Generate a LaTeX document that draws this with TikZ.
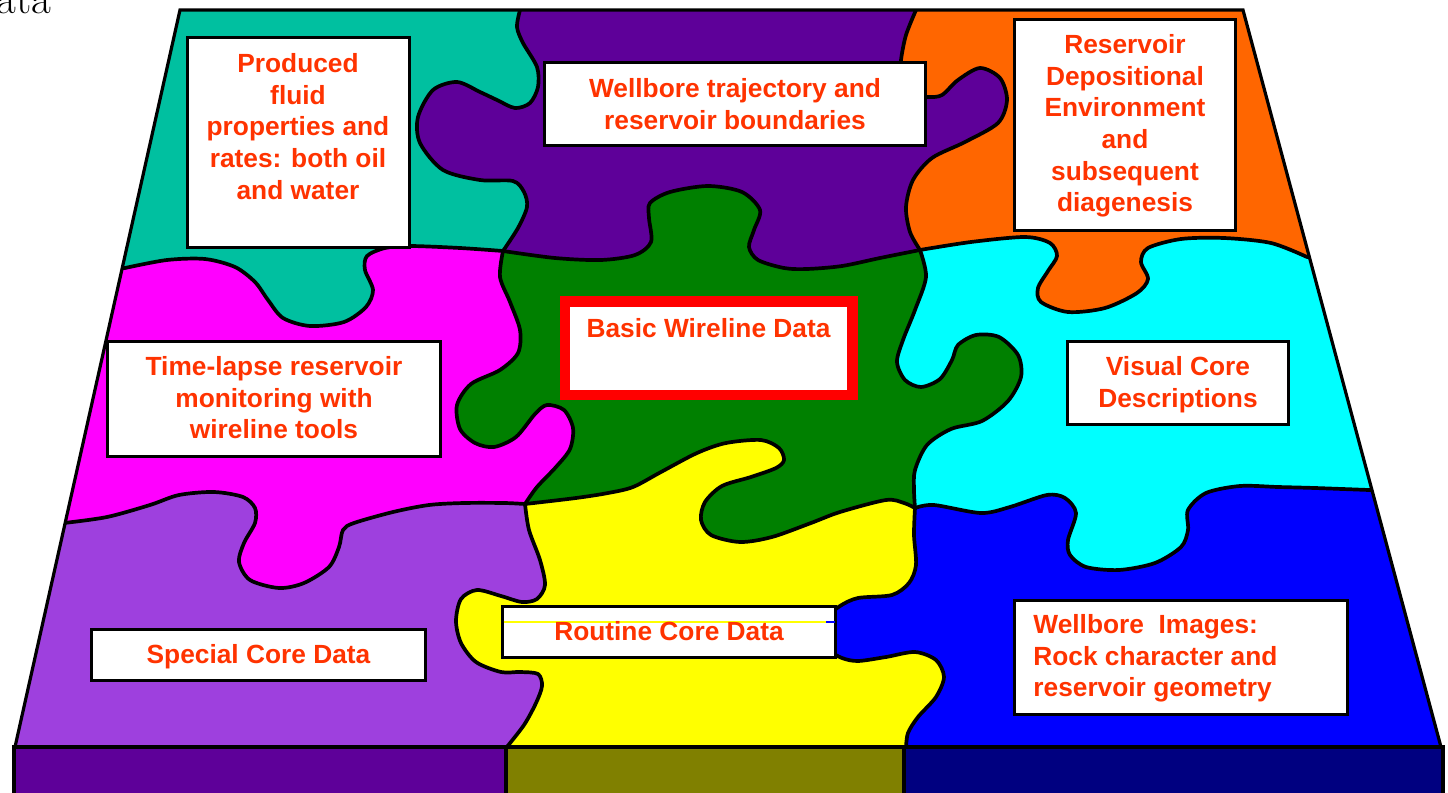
\documentclass[tikz,border=0pt]{standalone}
\usepackage{fontspec}
\newfontfamily\lsans{Liberation Sans}
\usetikzlibrary{fit}
\definecolor{tred}{HTML}{FF3300}
\definecolor{bred}{HTML}{FF0000}
\definecolor{cteal}{RGB}{0,192,160}
\definecolor{cdpurple}{RGB}{94,0,153}
\definecolor{corange}{HTML}{FF6600}
\definecolor{cmagenta}{HTML}{FF00FF}
\definecolor{cgreen}{HTML}{008000}
\definecolor{ccyan}{HTML}{00FFFF}
\definecolor{clpurple}{RGB}{158,64,222}
\definecolor{cyellow}{HTML}{FFFF00}
\definecolor{cblue}{HTML}{0000FF}
\definecolor{colive}{HTML}{808000}
\definecolor{cnavy}{HTML}{000080}
\tikzset{
 edge/.style={draw=black, line width=1.85pt, line join=round, line cap=round},
 box/.style={draw=black, fill=white, line width=1.3pt, inner sep=0pt},
 redbox/.style={draw=bred, fill=white, line width=5.2pt, inner sep=0pt},
 lbl/.style={text=tred, font=\lsans\bfseries\fontsize{13.15}{15.8}\selectfont, align=center, inner sep=0pt, anchor=north},
 h1/.style={insert path={-- (125,268)
   -- plot[smooth] coordinates {(125,268) (167,260) (205,259) (235,267) (255,282) (268,300) (283,318) (310,326) (344,322) (366,307) (373,290) (365,270) (367,256) (385,248) (410,246) (460,248) (503,251)}
   -- plot[smooth] coordinates {(503,251) (555,258) (601,260) (635,255) (651,242) (649,218) (650,203) (670,192) (708,186) (742,192) (760,210) (754,230) (749,247) (758,260) (784,268) (807,269) (842,266) (880,258) (920,250)}
   -- plot[smooth] coordinates {(920,250) (971,242) (1025,237) (1050,243) (1057,256) (1048,271) (1038,288) (1041,302) (1068,312) (1105,308) (1137,293) (1148,279) (1141,262) (1148,248) (1181,239) (1224,238) (1271,243) (1307,257)}
   -- (1600,258)}},
 h2/.style={insert path={-- (64,523)
   -- plot[smooth] coordinates {(64,523) (107,517) (150,505) (179,495) (214,492) (243,497) (255,508) (255,523) (244,543) (239,562) (250,580) (279,588) (304,583) (329,567) (339,547) (343,530) (354,523) (393,512) (429,505) (464,503) (504,503) (525,504)}
   -- plot[smooth] coordinates {(525,504) (576,498) (608,493) (633,487) (661,472) (697,453) (726,443) (761,440) (779,448) (784,460) (776,468) (751,477) (722,486) (705,502) (701,520) (711,535) (740,542) (772,537) (811,523) (840,512) (886,500) (904,503) (915,508)}
   -- plot[smooth] coordinates {(915,508) (934,505) (981,513) (1010,507) (1047,495) (1065,498) (1076,513) (1068,540) (1070,555) (1086,567) (1119,570) (1155,563) (1181,547) (1188,530) (1188,510) (1206,493) (1240,486) (1278,487) (1315,488) (1369,490)}
   -- (1600,490)}},
 v1a/.style={insert path={-- plot[smooth] coordinates {(520,10) (517,27) (523,43) (537,67) (538,87) (530,103) (515,108) (497,100) (480,92) (457,82) (433,90) (418,117) (420,143) (443,170) (480,180) (513,181) (524,192) (527,207) (518,228) (503,251)}}},
 v2a/.style={insert path={-- plot[smooth] coordinates {(916,10) (906,35) (901,60) (900,82) (906,95) (928,97) (942,95) (958,80) (980,68) (1000,78) (1007,100) (998,123) (965,142) (932,158) (913,180) (906,207) (910,232) (920,250)}}},
 v1b/.style={insert path={-- plot[smooth] coordinates {(503,251) (500,277) (510,302) (520,330) (518,353) (500,370) (471,384) (457,405) (460,429) (475,443) (494,447) (516,437) (535,414) (547,405) (564,410) (573,428) (570,449) (556,467) (537,487) (525,504)}}},
 v2b/.style={insert path={-- plot[smooth] coordinates {(920,250) (926,277) (915,310) (903,340) (897,362) (905,380) (921,387) (940,379) (952,360) (958,345) (976,335) (999,337) (1018,355) (1021,377) (1008,401) (982,421) (951,429) (927,445) (915,470) (914,490) (915,508)}}},
 v1c/.style={insert path={-- plot[smooth] coordinates {(525,504) (529,530) (540,560) (545,585) (537,599) (522,602) (501,596) (477,590) (461,599) (456,621) (461,643) (476,662) (501,672) (520,672) (538,674) (542,686) (536,703) (524,725) (506,748)}}},
 v2c/.style={insert path={-- plot[smooth] coordinates {(915,508) (914,535) (916,565) (909,583) (892,595) (858,598) (840,606) (828,617) (826,632) (830,650) (842,658) (858,661) (886,657) (915,652) (936,660) (944,677) (936,697) (918,717) (908,733) (906,748)}}}
}
\begin{document}
\begin{tikzpicture}[x=0.5pt,y=-0.5pt]
\useasboundingbox (0,0) rectangle (1448,793);
\node[anchor=base east, inner sep=0pt, font=\fontsize{21.5}{24}\selectfont] (ttl) at (52,13) {Data};
\begin{scope}
 \clip (180,10) -- (1243,10) -- (1441,747) -- (15,747) -- cycle;
 % bottom row
 \fill[cblue] (-100,-100) rectangle (1600,900);
 \fill[cyellow] (-100,-100) -- (915,-100) -- (915,508) [v2c] -- (906,900) -- (-100,900) -- cycle;
 \fill[clpurple] (-100,-100) -- (525,-100) -- (525,504) [v1c] -- (506,900) -- (-100,900) -- cycle;
 % middle row
 \begin{scope}
  \clip (-100,525) [h2] -- (1600,-200) -- (-100,-200) -- cycle;
  \fill[ccyan] (-100,-100) rectangle (1600,900);
  \fill[cgreen] (-100,-100) -- (920,-100) -- (920,250) [v2b] -- (915,900) -- (-100,900) -- cycle;
  \fill[cmagenta] (-100,-100) -- (503,-100) -- (503,251) [v1b] -- (525,900) -- (-100,900) -- cycle;
 \end{scope}
 % top row
 \begin{scope}
  \clip (-100,270) [h1] -- (1600,-200) -- (-100,-200) -- cycle;
  \fill[corange] (-100,-100) rectangle (1600,900);
  \fill[cdpurple] (-100,-100) -- (916,-100) -- (916,10) [v2a] -- (920,900) -- (-100,900) -- cycle;
  \fill[cteal] (-100,-100) -- (520,-100) -- (520,10) [v1a] -- (503,900) -- (-100,900) -- cycle;
 \end{scope}
 % piece outlines
 \draw[edge] (-100,270) [h1];
 \draw[edge] (-100,525) [h2];
 \draw[edge] (520,10) [v1a];
 \draw[edge] (916,10) [v2a];
 \draw[edge] (503,251) [v1b];
 \draw[edge] (920,250) [v2b];
 \draw[edge] (525,504) [v1c];
 \draw[edge] (915,508) [v2c];
\end{scope}
\draw[line width=1.6pt, line join=miter] (180,10) -- (1243,10) -- (1441,747) -- (15,747) -- cycle;
% base
\draw[line width=1.6pt, fill=cdpurple] (14,747) rectangle (506,810);
\draw[line width=1.6pt, fill=colive] (506,747) rectangle (904,810);
\draw[line width=1.6pt, fill=cnavy] (904,747) rectangle (1443,810);
% boxes
\node[box, fit={(187.3,37.3) (409.7,247.7)}] (b1) {};
\node[lbl] (t1) at (298,53.2) {Produced\\fluid\\properties and\\rates: both oil\\and water};
\node[box, fit={(544.3,62.3) (925.7,145.7)}] (b2) {};
\node[lbl] (t2) at (735,78.2) {Wellbore trajectory and\\reservoir boundaries};
\node[box, fit={(1014.3,19.3) (1235.7,230.7)}] (b3) {};
\node[lbl] (t3) at (1125,34.2) {Reservoir\\Depositional\\Environment\\and\\subsequent\\diagenesis};
\node[redbox, fit={(565.2,301.3) (852.5,395)}] (b4) {};
\node[lbl] (t4) at (708.5,318.2) {Basic Wireline Data};
\node[box, fit={(107.3,341.3) (440.7,456.7)}] (b5) {};
\node[lbl] (t5) at (274,356.2) {Time-lapse reservoir\\monitoring with\\wireline tools};
\node[box, fit={(1067.3,341.3) (1288.7,424.7)}] (b6) {};
\node[lbl] (t6) at (1178,356.2) {Visual Core\\Descriptions};
\node[box, fit={(91.3,629.3) (425.7,680.7)}] (b7) {};
\node[lbl] (t7) at (258.5,644.2) {Special Core Data};
\node[box, fit={(502.3,606.3) (835.7,657.7)}] (b8) {};
\draw[cyellow, line width=0.6pt] (503.5,622) -- (826,622);
\draw[cblue, line width=0.6pt] (826,622) -- (835,622);
\node[lbl] (t8) at (669,621.2) {Routine Core Data};
\node[box, fit={(1014.3,600.3) (1347.7,714.7)}] (b9) {};
\node[lbl, anchor=north west, align=left] (t9) at (1033,614.2) {Wellbore~~Images:\\Rock character and\\reservoir geometry};
\end{tikzpicture}
\end{document}
